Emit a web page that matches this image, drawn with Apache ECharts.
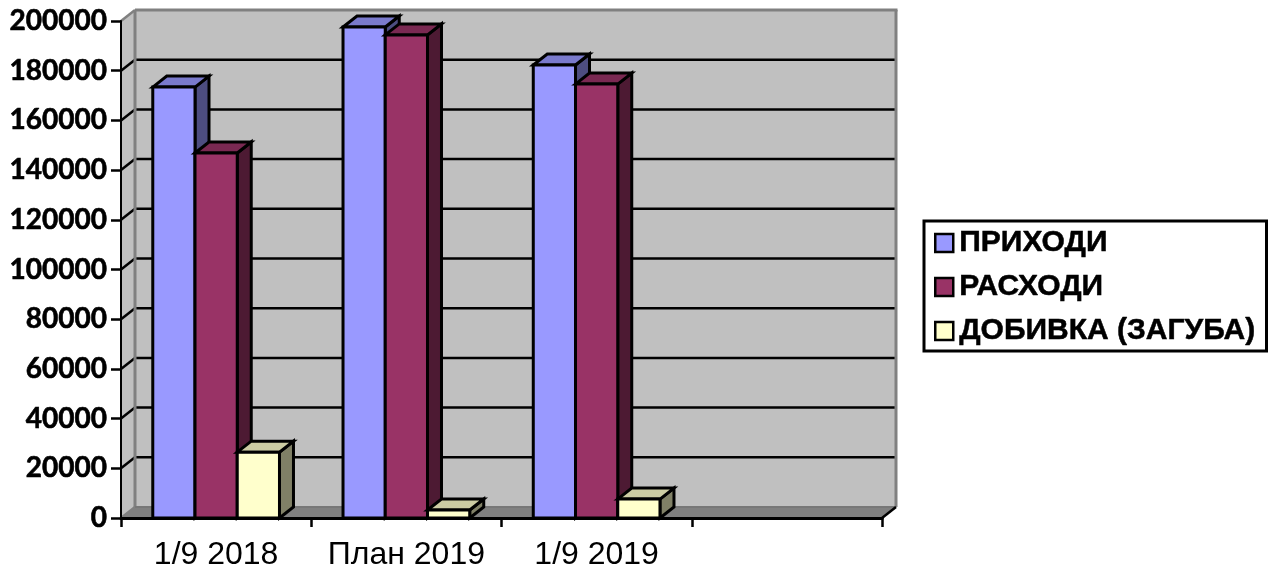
<!DOCTYPE html>
<html>
<head>
<meta charset="utf-8">
<style>
html, body { margin: 0; padding: 0; background: #fff; }
#chart { width: 1271px; height: 567px; }
</style>
<script src="https://cdn.jsdelivr.net/npm/echarts@6/dist/echarts.min.js"></script>
</head>
<body>
<div id="chart"></div>
<script>
var categories = ['1/9 2018', 'План 2019', '1/9 2019', ''];
var prihodi = [173400, 197600, 182300];
var rashodi = [146900, 194400, 174600];
var dobivka = [26500, 3200, 7600];
var yTicks = [0, 20000, 40000, 60000, 80000, 100000, 120000, 140000, 160000, 180000, 200000];

var seriesNames = ['ПРИХОДИ', 'РАСХОДИ', 'ДОБИВКА (ЗАГУБА)'];
var seriesValues = [prihodi, rashodi, dobivka];
var frontColors = ['#9999FF', '#993366', '#FFFFCC'];
var topColors = ['#7A7ACC', '#7A2952', '#CCCCA3'];
var sideColors = ['#4D4D80', '#4D1A33', '#808066'];

// fake 3d depth of the excel chart
var depthX = 14;
var depthY = 11;
var barShare = 0.222;

var myChart = echarts.init(document.getElementById('chart'));

function poly(points, fill, stroke, lineWidth) {
    return {
        type: 'polygon',
        shape: { points: points },
        style: { fill: fill, stroke: stroke, lineWidth: lineWidth, lineJoin: 'miter' }
    };
}

function line(x1, y1, x2, y2, color, width) {
    return {
        type: 'line',
        shape: { x1: x1, y1: y1, x2: x2, y2: y2 },
        style: { stroke: color, lineWidth: width }
    };
}

function renderWalls(params, api) {
    var c = params.coordSys;
    var left = c.x, right = c.x + c.width, top = c.y, bottom = c.y + c.height;
    var kids = [];
    // side wall
    kids.push(poly([[left, top], [left + depthX, top - depthY], [left + depthX, bottom - depthY], [left, bottom]], '#C0C0C0', null, 0));
    // back wall
    kids.push(poly([[left + depthX, top - depthY], [right + depthX, top - depthY], [right + depthX, bottom - depthY], [left + depthX, bottom - depthY]], '#C0C0C0', null, 0));
    // floor
    kids.push(poly([[left, bottom], [left + depthX, bottom - depthY], [right + depthX, bottom - depthY], [right, bottom]], '#808080', null, 0));
    yTicks.forEach(function (t) {
        var y = api.coord([0, t])[1];
        var edge = t === 0 || t === 200000;
        if (!edge) {
            kids.push(line(left + depthX, y - depthY, right + depthX, y - depthY, '#000', 2.5));
        }
        kids.push(line(left, y, left + depthX, y - depthY, edge ? '#808080' : '#000', 2.5));
    });
    // grey frame of the back wall
    kids.push(line(left + depthX, top - depthY, right + depthX + 1.5, top - depthY, '#808080', 3));
    kids.push(line(left + depthX, top - depthY, left + depthX, bottom - depthY, '#808080', 3));
    kids.push(line(right + depthX, top - depthY, right + depthX, bottom - depthY, '#808080', 3));
    kids.push(line(left + depthX, bottom - depthY, right + depthX, bottom - depthY, '#777', 2));
    kids.push(line(right, bottom, right + depthX, bottom - depthY, '#000', 2.5));
    return { type: 'group', children: kids };
}

function renderBar(params, api) {
    var s = params.seriesIndex - 1;
    var base = api.coord([api.value(0), 0]);
    var head = api.coord([api.value(0), api.value(1)]);
    var w = api.size([1, 0])[0] * barShare;
    var x0 = base[0] - 1.5 * w + s * w;
    var x1 = x0 + w;
    var y0 = base[1];
    var y1 = head[1];
    return {
        type: 'group',
        children: [
            poly([[x1, y0], [x1 + depthX, y0 - depthY], [x1 + depthX, y1 - depthY], [x1, y1]], sideColors[s], '#000', 3),
            poly([[x0, y1], [x0 + depthX, y1 - depthY], [x1 + depthX, y1 - depthY], [x1, y1]], topColors[s], '#000', 3),
            poly([[x0, y0], [x1, y0], [x1, y1], [x0, y1]], frontColors[s], '#000', 3)
        ]
    };
}

var series = [{
    type: 'custom',
    name: 'walls',
    z: 1,
    silent: true,
    clip: false,
    renderItem: renderWalls,
    data: [[0, 0]]
}];

seriesNames.forEach(function (name, i) {
    series.push({
        type: 'custom',
        name: name,
        z: 2,
        clip: false,
        renderItem: renderBar,
        itemStyle: { color: frontColors[i] },
        encode: { x: 0, y: 1 },
        data: seriesValues[i].map(function (v, k) { return [k, v]; })
    });
});

var option = {
    animation: false,
    backgroundColor: '#fff',
    grid: { left: 121, right: 389, top: 21, bottom: 49, outerBoundsMode: 'none' },
    legend: {
        orient: 'vertical',
        left: 924,
        top: 221,
        padding: [6, 11, 4, 10],
        itemGap: 12,
        itemWidth: 18,
        itemHeight: 18,
        icon: 'rect',
        borderColor: '#000',
        borderWidth: 3,
        data: seriesNames,
        itemStyle: { borderColor: '#000', borderWidth: 2.5 },
        textStyle: {
            color: '#000',
            fontFamily: 'Liberation Sans',
            fontWeight: 'bold',
            fontSize: 30,
            lineHeight: 28,
            padding: [4, 0, 0, 1],
            textBorderColor: '#000',
            textBorderWidth: 0.5
        }
    },
    xAxis: {
        type: 'category',
        data: categories,
        z: 5,
        axisLine: { lineStyle: { color: '#000', width: 3 } },
        axisTick: { show: true, length: 9, lineStyle: { color: '#000', width: 2.5 } },
        axisLabel: {
            color: '#000',
            fontFamily: 'Liberation Sans',
            fontSize: 32,
            margin: 21,
            interval: 0
        }
    },
    yAxis: {
        type: 'value',
        min: 0,
        max: 200000,
        interval: 20000,
        z: 5,
        splitLine: { show: false },
        axisLine: { show: true, lineStyle: { color: '#000', width: 2 } },
        axisTick: { show: true, length: 10, lineStyle: { color: '#000', width: 2.5 } },
        axisLabel: {
            color: '#000',
            fontFamily: 'Lato',
            fontWeight: 'bold',
            fontSize: 28,
            margin: 14,
            textBorderColor: '#000',
            textBorderWidth: 0.6,
            formatter: function (v) { return String(v); }
        }
    },
    series: series
};

myChart.setOption(option);
</script>
</body>
</html>
